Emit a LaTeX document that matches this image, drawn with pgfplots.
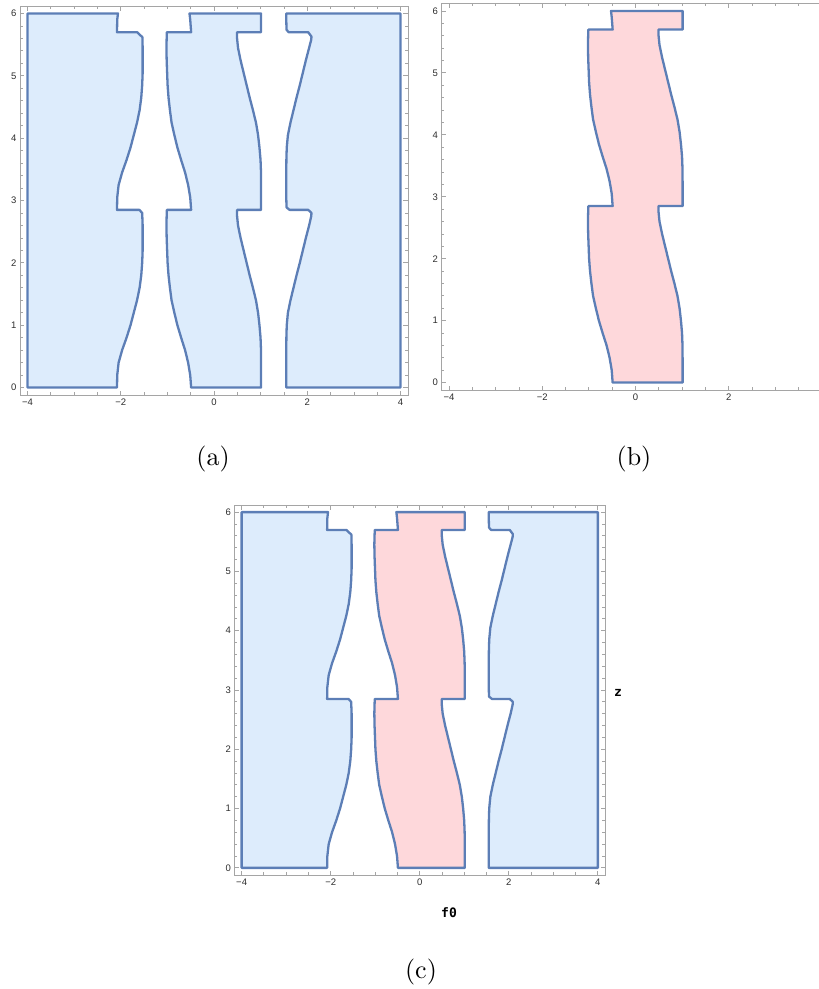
\documentclass[border=0pt]{standalone}
\usepackage{fontspec}
\newfontfamily\tickfont{Liberation Sans}
\newfontfamily\labelfont{DejaVu Sans Mono}
\newfontfamily\capfont{lmroman10-regular}[Extension=.otf]
\usepackage{pgfplots}
\usepackage{pgfplotstable}
\pgfplotsset{compat=1.18}

\definecolor{edge}{RGB}{92,126,182}
\definecolor{bluefill}{RGB}{221,236,252}
\definecolor{pinkfill}{RGB}{254,216,219}
\definecolor{framegray}{RGB}{165,165,165}
\definecolor{ticktext}{RGB}{45,45,45}

% outline of the left region (x from -4 to its wavy right edge)
\pgfplotstableread{
x y
-4 0
-2.08 0
-2.075 0.2
-2.045 0.4
-1.97 0.6
-1.875 0.8
-1.79 1.0
-1.72 1.2
-1.65 1.4
-1.595 1.6
-1.56 1.8
-1.54 2.0
-1.53 2.2
-1.53 2.4
-1.53 2.6
-1.54 2.80
-1.60 2.85
-2.08 2.85
-2.075 3.05
-2.045 3.25
-1.97 3.45
-1.875 3.65
-1.79 3.85
-1.72 4.05
-1.65 4.25
-1.595 4.45
-1.56 4.65
-1.54 4.85
-1.53 5.05
-1.53 5.25
-1.53 5.45
-1.535 5.62
-1.65 5.70
-2.08 5.70
-2.075 5.90
-2.06 6
-4 6
}\leftregion

% outline of the middle band
\pgfplotstableread{
x y
-0.49 0
1.01 0
1.01 0.2
1.01 0.4
1.008 0.6
0.998 0.8
0.975 1.0
0.945 1.2
0.90 1.4
0.835 1.6
0.765 1.8
0.70 2.0
0.635 2.2
0.57 2.4
0.515 2.6
0.495 2.75
0.495 2.85
1.01 2.85
1.01 3.05
1.01 3.25
1.008 3.45
0.998 3.65
0.975 3.85
0.945 4.05
0.90 4.25
0.835 4.45
0.765 4.65
0.70 4.85
0.635 5.05
0.57 5.25
0.515 5.45
0.495 5.60
0.495 5.70
1.01 5.70
1.01 6.0
-0.525 6.0
-0.51 5.90
-0.49 5.70
-1.01 5.70
-1.015 5.60
-1.02 5.45
-1.015 5.25
-1.005 5.05
-0.995 4.85
-0.975 4.65
-0.945 4.45
-0.91 4.25
-0.85 4.05
-0.785 3.85
-0.705 3.65
-0.62 3.45
-0.555 3.25
-0.51 3.05
-0.49 2.85
-1.01 2.85
-1.015 2.75
-1.02 2.6
-1.015 2.4
-1.005 2.2
-0.995 2.0
-0.975 1.8
-0.945 1.6
-0.91 1.4
-0.85 1.2
-0.785 1.0
-0.705 0.8
-0.62 0.6
-0.555 0.4
-0.51 0.2
}\middleregion

% outline of the right region (wavy left edge to x = 4)
\pgfplotstableread{
x y
4 0
1.55 0
1.55 0.2
1.55 0.4
1.55 0.6
1.552 0.8
1.56 1.0
1.585 1.2
1.64 1.4
1.705 1.6
1.77 1.8
1.84 2.0
1.905 2.2
1.97 2.4
2.04 2.6
2.085 2.75
2.09 2.80
2.02 2.85
1.62 2.85
1.555 2.89
1.55 3.05
1.55 3.25
1.55 3.45
1.552 3.65
1.56 3.85
1.585 4.05
1.64 4.25
1.705 4.45
1.77 4.65
1.84 4.85
1.905 5.05
1.97 5.25
2.04 5.45
2.085 5.58
2.09 5.63
2.02 5.70
1.60 5.70
1.555 5.74
1.55 5.90
1.55 6
4 6
}\rightregion

\pgfplotsset{
  regionax/.style={
    scale only axis,
    xmin=-4.16, xmax=4.16, ymin=-0.12, ymax=6.12,
    xtick={-4,-2,0,2,4},
    xticklabels={−4,−2,0,2,4},
    ytick={0,1,2,3,4,5,6},
    minor x tick num=3,
    minor y tick num=4,
    tick align=inside,
    tick pos=both,
    ticklabel pos=left,
    major tick length=4.5pt,
    minor tick length=2.6pt,
    axis line style={framegray, line width=0.9pt},
    tick style={framegray, line width=0.8pt},
    tick label style={font=\tickfont\fontsize{9.5}{10}\selectfont, text=ticktext},
    /pgf/number format/assume math mode=true,
  },
  region/.style={draw=edge, line width=2.3pt, line join=round, fill=#1},
}

\begin{document}
\begin{tikzpicture}
\path[use as bounding box] (0pt,0pt) rectangle (819pt,-989pt);

% (a)
\begin{axis}[regionax, at={(20pt,-395pt)}, anchor=south west,
  width=388pt, height=389pt]
\addplot[region=bluefill] table {\leftregion} -- cycle;
\addplot[region=bluefill] table {\middleregion} -- cycle;
\addplot[region=bluefill] table {\rightregion} -- cycle;
\end{axis}

% (b)
\begin{axis}[regionax, at={(441.5pt,-390pt)}, anchor=south west,
  width=388pt, height=386.5pt]
\addplot[region=pinkfill] table {\middleregion} -- cycle;
\end{axis}

% (c)
\begin{axis}[regionax, at={(234.5pt,-875pt)}, anchor=south west,
  width=370.5pt, height=370pt]
\addplot[region=bluefill] table {\leftregion} -- cycle;
\addplot[region=bluefill] table {\rightregion} -- cycle;
\addplot[region=pinkfill] table {\middleregion} -- cycle;
\end{axis}

\node[font=\labelfont\bfseries\fontsize{13}{14}\selectfont] at (449pt,-913pt) {f0};
\node[font=\labelfont\bfseries\fontsize{13}{14}\selectfont] at (618pt,-693pt) {z};

\node[font=\capfont\fontsize{26}{30}\selectfont] at (213pt,-459pt) {(a)};
\node[font=\capfont\fontsize{26}{30}\selectfont] at (634pt,-459pt) {(b)};
\node[font=\capfont\fontsize{26}{30}\selectfont] at (421pt,-972pt) {(c)};
\end{tikzpicture}
\end{document}
